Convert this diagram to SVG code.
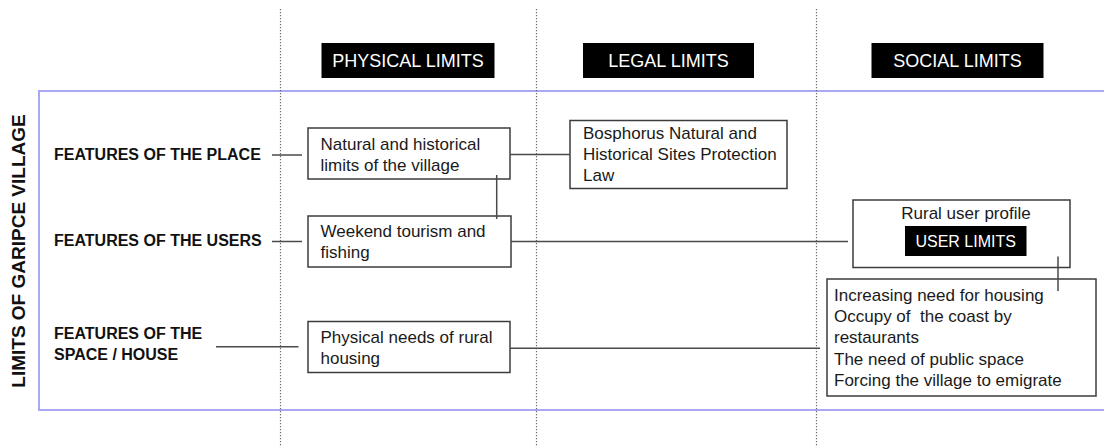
<svg xmlns="http://www.w3.org/2000/svg" width="1104" height="446" viewBox="0 0 1104 446">
<style>
.bg{fill:#ffffff}
.grid{stroke:#6a6a6a;stroke-width:1.2;stroke-dasharray:1.3 1.7;fill:none}
.frame{fill:none;stroke:#a8a8f4;stroke-width:2}
.hdr{fill:#000000}
.hdrt{fill:#ffffff;font-family:"Liberation Sans",Arial,sans-serif;font-size:18px;text-anchor:middle}
.box{fill:#ffffff;stroke:#3c3c3c;stroke-width:1.5}
.t{fill:#1a1a1a;font-family:"Liberation Sans",Arial,sans-serif;font-size:17px}
.lbl{fill:#111111;font-family:"Liberation Sans",Arial,sans-serif;font-size:16px;font-weight:bold}
.side{fill:#111111;font-family:"Liberation Sans",Arial,sans-serif;font-size:19px;font-weight:bold;text-anchor:middle}
.con{stroke:#4a4a4a;stroke-width:1.5;fill:none}
</style>
<rect class="bg" x="0" y="0" width="1104" height="446"/>
<g id="frame">
<path class="frame" d="M1104,91 L39,91 L39,410 L1104,410"/>
</g>
<g id="gridlines">
<line class="grid" x1="280.5" y1="9" x2="280.5" y2="446"/>
<line class="grid" x1="536.5" y1="9" x2="536.5" y2="446"/>
<line class="grid" x1="816.5" y1="9" x2="816.5" y2="446"/>
</g>
<g id="side-label">
<text class="side" transform="translate(25,251) rotate(-90)">LIMITS OF GARIPCE VILLAGE</text>
</g>
<g id="header-physical">
<rect class="hdr" x="321.5" y="43" width="173" height="35"/>
<text class="hdrt" x="408" y="67">PHYSICAL LIMITS</text>
</g>
<g id="header-legal">
<rect class="hdr" x="583" y="43" width="171" height="35"/>
<text class="hdrt" x="668.5" y="67">LEGAL LIMITS</text>
</g>
<g id="header-social">
<rect class="hdr" x="871.5" y="43" width="172" height="35"/>
<text class="hdrt" x="957.5" y="67">SOCIAL LIMITS</text>
</g>
<g id="row-place">
<text class="lbl" x="54" y="159.5">FEATURES OF THE PLACE</text>
</g>
<g id="row-users">
<text class="lbl" x="54" y="246">FEATURES OF THE USERS</text>
</g>
<g id="row-space">
<text class="lbl" x="54" y="338.5">FEATURES OF THE</text>
<text class="lbl" x="54" y="359.5">SPACE / HOUSE</text>
</g>
<g id="node-natural">
<rect class="box" x="308" y="128" width="202" height="51"/>
<text class="t" x="320.5" y="149.5">Natural and historical</text>
<text class="t" x="320.5" y="170.5">limits of the village</text>
</g>
<g id="node-law">
<rect class="box" x="570" y="120.5" width="217" height="68"/>
<text class="t" x="583" y="138.5">Bosphorus Natural and</text>
<text class="t" x="583" y="159.5">Historical Sites Protection</text>
<text class="t" x="583" y="180.5">Law</text>
</g>
<g id="node-weekend">
<rect class="box" x="308" y="216" width="203" height="51"/>
<text class="t" x="320.5" y="236.5">Weekend tourism and</text>
<text class="t" x="320.5" y="257.5">fishing</text>
</g>
<g id="node-physical-needs">
<rect class="box" x="308" y="321.5" width="202" height="51"/>
<text class="t" x="320.5" y="342.5">Physical needs of rural</text>
<text class="t" x="320.5" y="364">housing</text>
</g>
<g id="node-user-profile">
<rect class="box" x="853" y="200" width="217" height="67.5"/>
<text class="t" x="966" y="218.5" text-anchor="middle">Rural user profile</text>
<rect class="hdr" x="905" y="226" width="121.5" height="30"/>
<text class="hdrt" x="965.7" y="247" style="font-size:16px">USER LIMITS</text>
</g>
<g id="node-social-needs">
<rect class="box" x="827" y="279" width="269" height="117"/>
<text class="t" x="834" y="300.5">Increasing need for housing</text>
<text class="t" x="834" y="322" xml:space="preserve">Occupy of  the coast by</text>
<text class="t" x="834" y="343">restaurants</text>
<text class="t" x="834" y="364.5">The need of public space</text>
<text class="t" x="834" y="386">Forcing the village to emigrate</text>
</g>
<g id="connectors">
<line class="con" x1="272" y1="155" x2="302" y2="155"/>
<line class="con" x1="510" y1="154.5" x2="570" y2="154.5"/>
<line class="con" x1="496.7" y1="175" x2="496.7" y2="219"/>
<line class="con" x1="272" y1="241.5" x2="302" y2="241.5"/>
<line class="con" x1="511" y1="241.5" x2="848" y2="241.5"/>
<line class="con" x1="216" y1="346.7" x2="298.5" y2="346.7"/>
<line class="con" x1="510" y1="348.3" x2="820" y2="348.3"/>
<line class="con" x1="1058" y1="256.5" x2="1058" y2="291"/>
</g>
</svg>
